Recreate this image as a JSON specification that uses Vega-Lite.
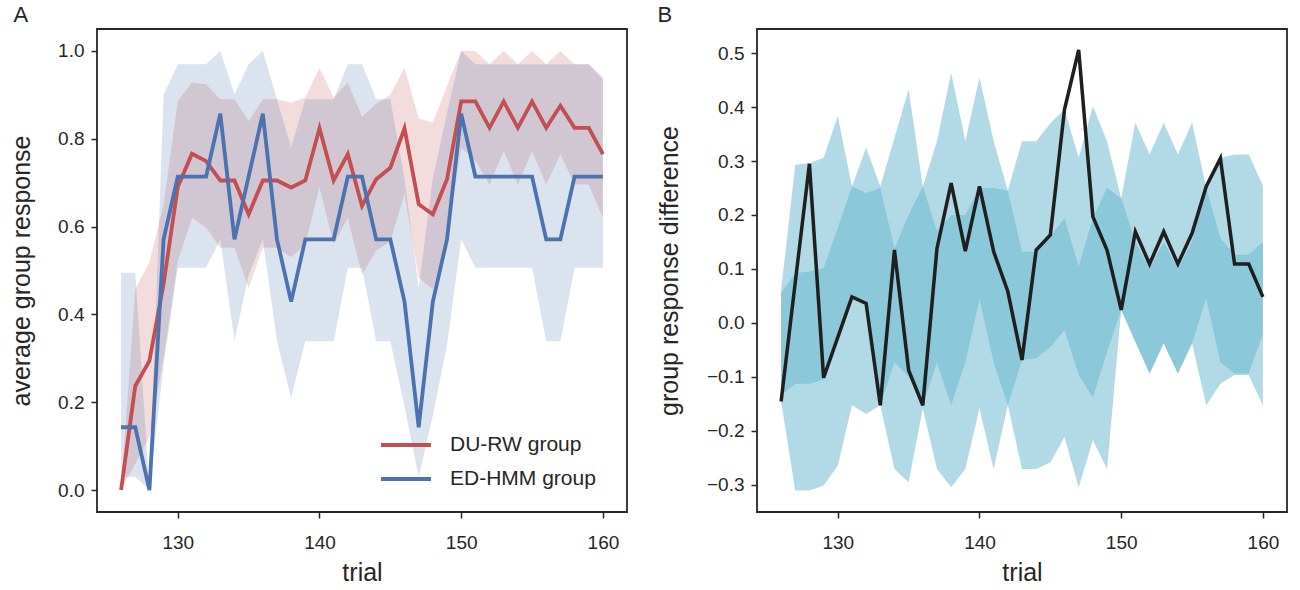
{
  "$schema": "https://vega.github.io/schema/vega-lite/v6.json",
  "background": "white",
  "padding": {"left": 8, "top": 3, "right": 10, "bottom": 0},
  "config": {
    "font": "Liberation Sans",
    "view": {"stroke": "#262626", "strokeWidth": 1.8},
    "axis": {"domain": false, "grid": false, "tickColor": "#262626", "tickWidth": 1.5, "tickSize": 6,
      "labelFont": "Liberation Sans", "labelFontSize": 19, "labelColor": "#262626", "labelPadding": 7,
      "titleFont": "Liberation Sans", "titleFontSize": 25, "titleFontWeight": "normal", "titleColor": "#262626"},
    "axisX": {"labelPadding": 15, "titlePadding": 8},
    "axisY": {"titlePadding": 23},
    "title": {"fontSize": 22, "fontWeight": "normal", "anchor": "start", "frame": "bounds", "color": "#262626", "font": "Liberation Sans", "offset": 2}
  },
  "datasets": {
    "left": [
      {"trial": 126, "group": "DU-RW group", "mean": 0.0, "lo": 0.0, "hi": 0.0},
      {"trial": 127, "group": "DU-RW group", "mean": 0.237, "lo": 0.06, "hi": 0.457},
      {"trial": 128, "group": "DU-RW group", "mean": 0.294, "lo": 0.12, "hi": 0.52},
      {"trial": 129, "group": "DU-RW group", "mean": 0.47, "lo": 0.3, "hi": 0.65},
      {"trial": 130, "group": "DU-RW group", "mean": 0.69, "lo": 0.52, "hi": 0.886},
      {"trial": 131, "group": "DU-RW group", "mean": 0.766, "lo": 0.62, "hi": 0.928},
      {"trial": 132, "group": "DU-RW group", "mean": 0.749, "lo": 0.598, "hi": 0.924},
      {"trial": 133, "group": "DU-RW group", "mean": 0.705, "lo": 0.552, "hi": 0.89},
      {"trial": 134, "group": "DU-RW group", "mean": 0.705, "lo": 0.552, "hi": 0.89},
      {"trial": 135, "group": "DU-RW group", "mean": 0.628, "lo": 0.46, "hi": 0.84},
      {"trial": 136, "group": "DU-RW group", "mean": 0.705, "lo": 0.552, "hi": 0.89},
      {"trial": 137, "group": "DU-RW group", "mean": 0.705, "lo": 0.552, "hi": 0.89},
      {"trial": 138, "group": "DU-RW group", "mean": 0.689, "lo": 0.53, "hi": 0.882},
      {"trial": 139, "group": "DU-RW group", "mean": 0.705, "lo": 0.56, "hi": 0.894},
      {"trial": 140, "group": "DU-RW group", "mean": 0.824, "lo": 0.689, "hi": 0.962},
      {"trial": 141, "group": "DU-RW group", "mean": 0.705, "lo": 0.56, "hi": 0.894},
      {"trial": 142, "group": "DU-RW group", "mean": 0.765, "lo": 0.62, "hi": 0.928},
      {"trial": 143, "group": "DU-RW group", "mean": 0.647, "lo": 0.49, "hi": 0.85},
      {"trial": 144, "group": "DU-RW group", "mean": 0.708, "lo": 0.545, "hi": 0.88},
      {"trial": 145, "group": "DU-RW group", "mean": 0.734, "lo": 0.567, "hi": 0.9},
      {"trial": 146, "group": "DU-RW group", "mean": 0.824, "lo": 0.674, "hi": 0.962},
      {"trial": 147, "group": "DU-RW group", "mean": 0.651, "lo": 0.484, "hi": 0.846},
      {"trial": 148, "group": "DU-RW group", "mean": 0.628, "lo": 0.457, "hi": 0.837},
      {"trial": 149, "group": "DU-RW group", "mean": 0.708, "lo": 0.575, "hi": 0.92},
      {"trial": 150, "group": "DU-RW group", "mean": 0.885, "lo": 0.78, "hi": 1.0},
      {"trial": 151, "group": "DU-RW group", "mean": 0.885, "lo": 0.75, "hi": 1.0},
      {"trial": 152, "group": "DU-RW group", "mean": 0.825, "lo": 0.696, "hi": 0.97},
      {"trial": 153, "group": "DU-RW group", "mean": 0.885, "lo": 0.772, "hi": 1.0},
      {"trial": 154, "group": "DU-RW group", "mean": 0.825, "lo": 0.696, "hi": 0.97},
      {"trial": 155, "group": "DU-RW group", "mean": 0.885, "lo": 0.772, "hi": 1.0},
      {"trial": 156, "group": "DU-RW group", "mean": 0.825, "lo": 0.696, "hi": 0.97},
      {"trial": 157, "group": "DU-RW group", "mean": 0.875, "lo": 0.765, "hi": 1.0},
      {"trial": 158, "group": "DU-RW group", "mean": 0.825, "lo": 0.696, "hi": 0.97},
      {"trial": 159, "group": "DU-RW group", "mean": 0.825, "lo": 0.696, "hi": 0.97},
      {"trial": 160, "group": "DU-RW group", "mean": 0.765, "lo": 0.62, "hi": 0.94},
      {"trial": 126, "group": "ED-HMM group", "mean": 0.143, "lo": 0.03, "hi": 0.495},
      {"trial": 127, "group": "ED-HMM group", "mean": 0.143, "lo": 0.03, "hi": 0.495},
      {"trial": 128, "group": "ED-HMM group", "mean": 0.0, "lo": 0.0, "hi": 0.0},
      {"trial": 129, "group": "ED-HMM group", "mean": 0.571, "lo": 0.286, "hi": 0.9},
      {"trial": 130, "group": "ED-HMM group", "mean": 0.714, "lo": 0.506, "hi": 0.97},
      {"trial": 131, "group": "ED-HMM group", "mean": 0.714, "lo": 0.506, "hi": 0.97},
      {"trial": 132, "group": "ED-HMM group", "mean": 0.714, "lo": 0.506, "hi": 0.97},
      {"trial": 133, "group": "ED-HMM group", "mean": 0.857, "lo": 0.571, "hi": 1.0},
      {"trial": 134, "group": "ED-HMM group", "mean": 0.571, "lo": 0.339, "hi": 0.901},
      {"trial": 135, "group": "ED-HMM group", "mean": 0.714, "lo": 0.49, "hi": 0.97},
      {"trial": 136, "group": "ED-HMM group", "mean": 0.857, "lo": 0.571, "hi": 1.0},
      {"trial": 137, "group": "ED-HMM group", "mean": 0.571, "lo": 0.339, "hi": 0.89},
      {"trial": 138, "group": "ED-HMM group", "mean": 0.429, "lo": 0.21, "hi": 0.78},
      {"trial": 139, "group": "ED-HMM group", "mean": 0.571, "lo": 0.339, "hi": 0.89},
      {"trial": 140, "group": "ED-HMM group", "mean": 0.571, "lo": 0.339, "hi": 0.89},
      {"trial": 141, "group": "ED-HMM group", "mean": 0.571, "lo": 0.339, "hi": 0.89},
      {"trial": 142, "group": "ED-HMM group", "mean": 0.714, "lo": 0.506, "hi": 0.97},
      {"trial": 143, "group": "ED-HMM group", "mean": 0.714, "lo": 0.506, "hi": 0.97},
      {"trial": 144, "group": "ED-HMM group", "mean": 0.571, "lo": 0.339, "hi": 0.89},
      {"trial": 145, "group": "ED-HMM group", "mean": 0.571, "lo": 0.339, "hi": 0.89},
      {"trial": 146, "group": "ED-HMM group", "mean": 0.429, "lo": 0.19, "hi": 0.71},
      {"trial": 147, "group": "ED-HMM group", "mean": 0.143, "lo": 0.03, "hi": 0.46},
      {"trial": 148, "group": "ED-HMM group", "mean": 0.429, "lo": 0.17, "hi": 0.71},
      {"trial": 149, "group": "ED-HMM group", "mean": 0.571, "lo": 0.33, "hi": 0.86},
      {"trial": 150, "group": "ED-HMM group", "mean": 0.857, "lo": 0.571, "hi": 1.0},
      {"trial": 151, "group": "ED-HMM group", "mean": 0.714, "lo": 0.506, "hi": 0.97},
      {"trial": 152, "group": "ED-HMM group", "mean": 0.714, "lo": 0.506, "hi": 0.97},
      {"trial": 153, "group": "ED-HMM group", "mean": 0.714, "lo": 0.506, "hi": 0.97},
      {"trial": 154, "group": "ED-HMM group", "mean": 0.714, "lo": 0.506, "hi": 0.97},
      {"trial": 155, "group": "ED-HMM group", "mean": 0.714, "lo": 0.506, "hi": 0.97},
      {"trial": 156, "group": "ED-HMM group", "mean": 0.571, "lo": 0.339, "hi": 0.97},
      {"trial": 157, "group": "ED-HMM group", "mean": 0.571, "lo": 0.339, "hi": 0.97},
      {"trial": 158, "group": "ED-HMM group", "mean": 0.714, "lo": 0.506, "hi": 0.97},
      {"trial": 159, "group": "ED-HMM group", "mean": 0.714, "lo": 0.506, "hi": 0.97},
      {"trial": 160, "group": "ED-HMM group", "mean": 0.714, "lo": 0.506, "hi": 0.935}
    ],
    "right": [
      {"trial": 126, "diff": -0.146, "olo": -0.146, "ohi": 0.06, "ilo": -0.135, "ihi": 0.055},
      {"trial": 127, "diff": 0.075, "olo": -0.311, "ohi": 0.293, "ilo": -0.113, "ihi": 0.092},
      {"trial": 128, "diff": 0.295, "olo": -0.311, "ohi": 0.296, "ilo": -0.113, "ihi": 0.095},
      {"trial": 129, "diff": -0.102, "olo": -0.302, "ohi": 0.306, "ilo": -0.105, "ihi": 0.101},
      {"trial": 130, "diff": -0.027, "olo": -0.265, "ohi": 0.383, "ilo": -0.03, "ihi": 0.176},
      {"trial": 131, "diff": 0.048, "olo": -0.153, "ohi": 0.253, "ilo": 0.052, "ihi": 0.253},
      {"trial": 132, "diff": 0.036, "olo": -0.169, "ohi": 0.325, "ilo": 0.033, "ihi": 0.241},
      {"trial": 133, "diff": -0.153, "olo": -0.153, "ohi": 0.253, "ilo": -0.153, "ihi": 0.25},
      {"trial": 134, "diff": 0.135, "olo": -0.271, "ohi": 0.343, "ilo": -0.073, "ihi": 0.138},
      {"trial": 135, "diff": -0.088, "olo": -0.296, "ohi": 0.433, "ilo": -0.1, "ihi": 0.2},
      {"trial": 136, "diff": -0.153, "olo": -0.159, "ohi": 0.253, "ilo": -0.153, "ihi": 0.253},
      {"trial": 137, "diff": 0.138, "olo": -0.271, "ohi": 0.337, "ilo": -0.073, "ihi": 0.17},
      {"trial": 138, "diff": 0.259, "olo": -0.305, "ohi": 0.464, "ilo": -0.153, "ihi": 0.2},
      {"trial": 139, "diff": 0.133, "olo": -0.271, "ohi": 0.337, "ilo": -0.073, "ihi": 0.2},
      {"trial": 140, "diff": 0.253, "olo": -0.159, "ohi": 0.455, "ilo": 0.043, "ihi": 0.25},
      {"trial": 141, "diff": 0.132, "olo": -0.271, "ohi": 0.337, "ilo": -0.073, "ihi": 0.25},
      {"trial": 142, "diff": 0.058, "olo": -0.153, "ohi": 0.245, "ilo": -0.153, "ihi": 0.245},
      {"trial": 143, "diff": -0.069, "olo": -0.271, "ohi": 0.337, "ilo": -0.069, "ihi": 0.132},
      {"trial": 144, "diff": 0.135, "olo": -0.271, "ohi": 0.337, "ilo": -0.066, "ihi": 0.132},
      {"trial": 145, "diff": 0.163, "olo": -0.259, "ohi": 0.37, "ilo": -0.045, "ihi": 0.16},
      {"trial": 146, "diff": 0.396, "olo": -0.212, "ohi": 0.396, "ilo": -0.014, "ihi": 0.194},
      {"trial": 147, "diff": 0.506, "olo": -0.305, "ohi": 0.306, "ilo": -0.097, "ihi": 0.104},
      {"trial": 148, "diff": 0.197, "olo": -0.218, "ohi": 0.402, "ilo": -0.138, "ihi": 0.194},
      {"trial": 149, "diff": 0.135, "olo": -0.271, "ohi": 0.337, "ilo": -0.054, "ihi": 0.25},
      {"trial": 150, "diff": 0.024, "olo": 0.024, "ohi": 0.231, "ilo": 0.024, "ihi": 0.231},
      {"trial": 151, "diff": 0.169, "olo": -0.035, "ohi": 0.371, "ilo": -0.035, "ihi": 0.15},
      {"trial": 152, "diff": 0.109, "olo": -0.094, "ohi": 0.312, "ilo": -0.094, "ihi": 0.1},
      {"trial": 153, "diff": 0.169, "olo": -0.038, "ohi": 0.371, "ilo": -0.038, "ihi": 0.15},
      {"trial": 154, "diff": 0.109, "olo": -0.094, "ohi": 0.312, "ilo": -0.094, "ihi": 0.1},
      {"trial": 155, "diff": 0.166, "olo": -0.038, "ohi": 0.371, "ilo": -0.038, "ihi": 0.15},
      {"trial": 156, "diff": 0.253, "olo": -0.153, "ohi": 0.25, "ilo": 0.045, "ihi": 0.25},
      {"trial": 157, "diff": 0.305, "olo": -0.113, "ohi": 0.306, "ilo": -0.073, "ihi": 0.157},
      {"trial": 158, "diff": 0.109, "olo": -0.097, "ohi": 0.312, "ilo": -0.094, "ihi": 0.126},
      {"trial": 159, "diff": 0.109, "olo": -0.097, "ohi": 0.312, "ilo": -0.094, "ihi": 0.126},
      {"trial": 160, "diff": 0.048, "olo": -0.153, "ohi": 0.254, "ilo": -0.02, "ihi": 0.15}
    ]
  },
  "spacing": 130,
  "bounds": "flush",
  "resolve": {"scale": {"x": "independent", "y": "independent", "color": "independent"}, "legend": {"color": "independent"}},
  "hconcat": [
    {
      "title": {"text": "A", "dx": 4},
      "width": 530,
      "height": 483,
      "data": {"name": "left"},
      "encoding": {
        "x": {"field": "trial", "type": "quantitative",
          "scale": {"domain": [124.3, 161.7], "nice": false, "zero": false},
          "axis": {"values": [130, 140, 150, 160], "format": "d", "title": "trial"}}
      },
      "layer": [
        {
          "mark": {"type": "area", "opacity": 0.2},
          "encoding": {
            "y": {"field": "lo", "type": "quantitative", "stack": null,
              "scale": {"domain": [-0.05, 1.05], "nice": false, "zero": false},
              "axis": {"values": [0, 0.2, 0.4, 0.6, 0.8, 1.0], "format": ".1f", "title": "average group response"}},
            "y2": {"field": "hi"},
            "color": {"field": "group", "type": "nominal",
              "scale": {"domain": ["DU-RW group", "ED-HMM group"], "range": ["#c44e52", "#4c72b0"]},
              "legend": {"title": null, "orient": "none", "legendX": 297, "legendY": 404,
                "symbolType": "M-2.5,0H2.5", "symbolSize": 400, "symbolStrokeWidth": 3.8, "symbolOpacity": 1,
                "labelFontSize": 21, "labelColor": "#262626", "labelFont": "Liberation Sans", "labelOffset": 32,
                "rowPadding": 12}}
          }
        },
        {
          "mark": {"type": "line", "strokeWidth": 3.8},
          "encoding": {
            "y": {"field": "mean", "type": "quantitative"},
            "color": {"field": "group", "type": "nominal",
              "legend": {"title": null, "orient": "none", "legendX": 297, "legendY": 404,
                "symbolType": "M-2.5,0H2.5", "symbolSize": 400, "symbolStrokeWidth": 3.8, "symbolOpacity": 1,
                "labelFontSize": 21, "labelColor": "#262626", "labelFont": "Liberation Sans", "labelOffset": 32,
                "rowPadding": 12}}
          }
        }
      ]
    },
    {
      "title": {"text": "B"},
      "width": 530,
      "height": 483,
      "data": {"name": "right"},
      "encoding": {
        "x": {"field": "trial", "type": "quantitative",
          "scale": {"domain": [124.3, 161.7], "nice": false, "zero": false},
          "axis": {"values": [130, 140, 150, 160], "format": "d", "title": "trial"}}
      },
      "layer": [
        {
          "mark": {"type": "area", "color": "#64b5cd", "opacity": 0.5},
          "encoding": {
            "y": {"field": "olo", "type": "quantitative", "stack": null,
              "scale": {"domain": [-0.351, 0.545], "nice": false, "zero": false},
              "axis": {"values": [-0.3, -0.2, -0.1, 0, 0.1, 0.2, 0.3, 0.4, 0.5], "format": ".1f", "title": "group response difference", "titlePadding": 24}},
            "y2": {"field": "ohi"}
          }
        },
        {
          "mark": {"type": "area", "color": "#64b5cd", "opacity": 0.5},
          "encoding": {
            "y": {"field": "ilo", "type": "quantitative", "stack": null},
            "y2": {"field": "ihi"}
          }
        },
        {
          "mark": {"type": "line", "color": "#1f1f1f", "strokeWidth": 3.5},
          "encoding": {
            "y": {"field": "diff", "type": "quantitative"}
          }
        }
      ]
    }
  ]
}
